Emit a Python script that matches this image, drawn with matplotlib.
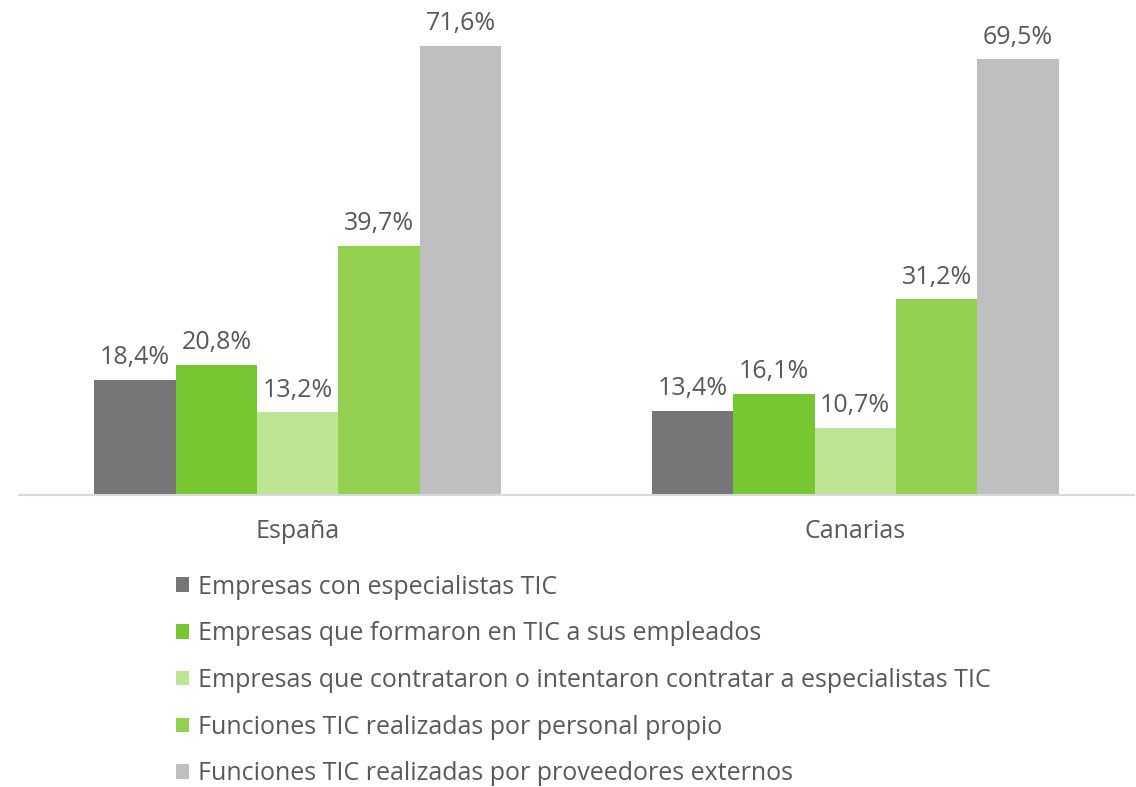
import matplotlib
matplotlib.use('Agg')
import matplotlib.pyplot as plt
from matplotlib.patches import Patch
import numpy as np

plt.rcParams['font.family'] = ['Open Sans', 'DejaVu Sans']

regions = ['España', 'Canarias']
series = [
    'Empresas con especialistas TIC',
    'Empresas que formaron en TIC a sus empleados',
    'Empresas que contrataron o intentaron contratar a especialistas TIC',
    'Funciones TIC realizadas por personal propio',
    'Funciones TIC realizadas por proveedores externos',
]
values = [
    [18.4, 13.4],
    [20.8, 16.1],
    [13.2, 10.7],
    [39.7, 31.2],
    [71.6, 69.5],
]
colors = ['#767676', '#76C731', '#BDE594', '#92D050', '#BFBFBF']
TEXT = '#595959'

W, H = 1136, 787
fig = plt.figure(figsize=(W / 100, H / 100), dpi=100)
ax = fig.add_axes([19 / W, (H - 495) / H, 1115 / W, 476.5 / H])

x = np.arange(len(regions))
width = 0.146
for i, (name, vals) in enumerate(zip(series, values)):
    pos = x + (i - 2) * width
    bars = ax.bar(pos, vals, width, color=colors[i], label=name)
    for b, v in zip(bars, vals):
        ax.annotate(f'{v:.1f}%'.replace('.', ','),
                    (b.get_x() + b.get_width() / 2, v),
                    xytext=(0, 7), textcoords='offset points',
                    ha='center', va='bottom', fontsize=18, color=TEXT)

ax.set_xlim(-0.5, 1.5)
ax.set_ylim(0, 76)
ax.set_xticks(x)
ax.set_xticklabels(regions, fontsize=18, color=TEXT)
ax.tick_params(axis='x', length=0, pad=17)
ax.set_yticks([])
for s in ['top', 'right', 'left']:
    ax.spines[s].set_visible(False)
ax.spines['bottom'].set_color('#D9D9D9')
ax.spines['bottom'].set_linewidth(1.5)

handles = [Patch(facecolor=c, edgecolor='none') for c in colors]
leg = fig.legend(handles, series, loc='upper left',
                 bbox_to_anchor=(163 / W, 1 - 562 / H), frameon=False,
                 fontsize=18, handlelength=0.52, handleheight=0.52,
                 handletextpad=0.4, labelspacing=0.87, borderpad=0)
for t in leg.get_texts():
    t.set_color(TEXT)

fig.savefig('out.png', dpi=100)
